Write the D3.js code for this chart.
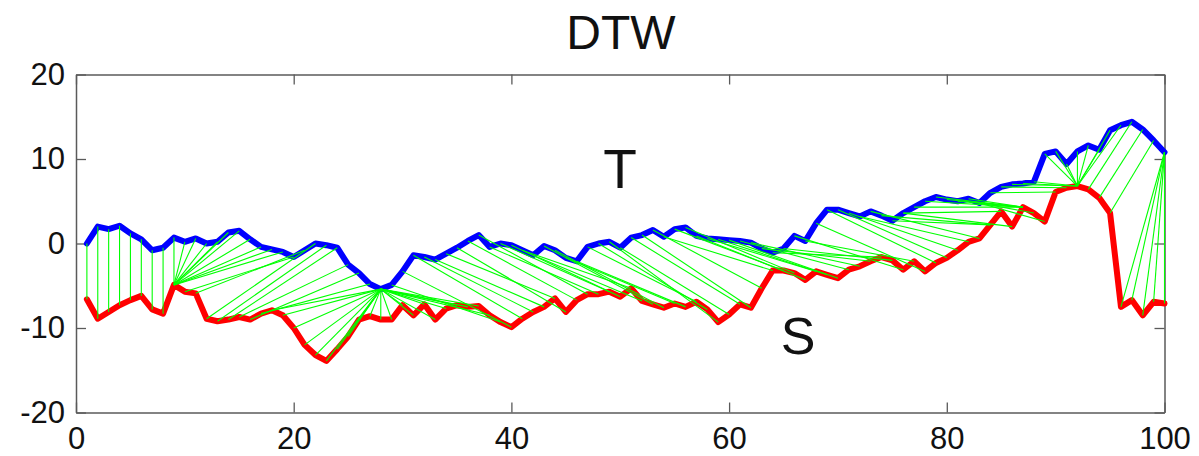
<!DOCTYPE html>
<html><head><meta charset="utf-8">
<script src="https://cdn.jsdelivr.net/npm/d3@7"></script>
<style>
body{margin:0;background:#fff}
svg text{font-family:"Liberation Sans",Arial,Helvetica,sans-serif;fill:#111}
</style>
</head><body><svg id="chart" width="1199" height="456"></svg>
<script>
// Query series T and reference series S, one value per time step 1..100
const seriesT = [0.0,2.0,1.7,2.1,1.2,0.5,-0.8,-0.5,0.7,0.2,0.6,0.0,0.2,1.3,1.5,0.5,-0.4,-0.7,-1.0,-1.6,
 -0.8,0.0,-0.2,-0.5,-2.5,-3.5,-4.8,-5.4,-4.9,-3.3,-1.4,-1.6,-1.9,-1.2,-0.5,0.3,1.0,-0.4,0.0,-0.2,
 -0.8,-1.4,-0.3,-0.8,-1.7,-2.1,-0.4,0.0,0.2,-0.5,0.7,1.0,1.6,0.8,1.7,1.9,0.9,0.6,0.5,0.4,
 0.3,0.1,-0.6,-1.1,-0.6,0.9,0.3,2.4,4.0,4.0,3.6,3.2,3.8,3.3,2.7,3.6,4.3,5.0,5.5,5.2,
 5.0,5.3,4.8,6.0,6.7,7.0,7.1,7.3,10.6,10.9,9.4,10.9,11.6,11.1,13.4,14.0,14.4,13.5,12.2,10.8];
const seriesS = [-6.6,-8.9,-8.1,-7.3,-6.7,-6.2,-7.8,-8.3,-4.9,-5.7,-5.9,-8.9,-9.2,-9.0,-8.7,-9.0,-8.3,-7.9,-8.5,-10.0,
 -12.0,-13.2,-13.9,-12.5,-11.0,-9.0,-8.6,-9.0,-9.0,-7.3,-8.5,-7.2,-9.0,-7.7,-7.3,-7.5,-7.4,-8.5,-9.3,-9.9,
 -8.9,-8.1,-7.5,-6.5,-8.1,-6.7,-6.0,-6.0,-5.7,-6.3,-5.3,-6.8,-7.2,-7.6,-7.1,-7.5,-6.9,-7.8,-9.3,-8.4,
 -7.2,-7.6,-5.3,-3.2,-3.2,-3.5,-4.3,-3.3,-3.7,-4.1,-3.1,-2.7,-2.1,-1.6,-2.0,-3.1,-2.1,-3.3,-2.3,-1.7,
 -0.8,0.2,0.6,2.2,3.8,2.0,4.3,3.6,2.6,6.1,6.6,6.8,6.4,5.4,3.6,-7.5,-6.7,-8.5,-6.9,-7.1];
const xTicks = [0,20,40,60,80,100];
const yTicks = [-20,-10,0,10,20];
const titleText = "DTW";
const seriesNames = ["T","S"];
const warpWindow = 10; // Sakoe-Chiba band half-width, in samples

const svg = d3.select("#chart");
const x = d3.scaleLinear().domain([0,100]).range([76,1164.5]);
const y = d3.scaleLinear().domain([-20,20]).range([412.5,74.5]);

// Optimal warping path (squared-difference cost, banded)
function dtwPath(a,b,w){
  const n=a.length,m=b.length;
  const D=Array.from({length:n},()=>new Array(m).fill(Infinity));
  for(let i=0;i<n;i++)for(let j=0;j<m;j++){
    if(Math.abs(i-j)>w)continue;
    const c=(a[i]-b[j])**2;
    if(i===0&&j===0){D[i][j]=c;continue;}
    let best=Infinity;
    if(i>0)best=Math.min(best,D[i-1][j]);
    if(j>0)best=Math.min(best,D[i][j-1]);
    if(i>0&&j>0)best=Math.min(best,D[i-1][j-1]);
    D[i][j]=c+best;
  }
  let i=n-1,j=m-1;const path=[[i,j]];
  while(i>0||j>0){
    if(i===0)j--;else if(j===0)i--;else{
      const d=D[i-1][j-1],u=D[i-1][j],l=D[i][j-1];
      if(d<=u&&d<=l){i--;j--;}else if(u<=l)i--;else j--;
    }
    path.push([i,j]);
  }
  return path.reverse();
}
const path = dtwPath(seriesT, seriesS, warpWindow);

// Axes box with inward ticks on all four sides
const axisColor = "#5a5a5a";
const plainNum = d => String(d);   // ASCII hyphen for negatives
function styleAxis(g){
  g.select(".domain").attr("stroke",axisColor).attr("stroke-width",1.5);
  g.selectAll(".tick line").attr("stroke",axisColor).attr("stroke-width",1.3);
  g.selectAll(".tick text").attr("font-size",31).attr("fill","#111")
   .attr("font-family","'Liberation Sans',Arial,sans-serif");
}
svg.append("g").attr("transform","translate(0,412.5)")
  .call(d3.axisBottom(x).tickValues(xTicks).tickSizeInner(-10).tickSizeOuter(0).tickPadding(14).tickFormat(plainNum))
  .call(styleAxis);
svg.append("g").attr("transform","translate(0,74.5)")
  .call(d3.axisTop(x).tickValues(xTicks).tickSizeInner(-10).tickSizeOuter(0).tickFormat(""))
  .call(styleAxis);
svg.append("g").attr("transform","translate(76,0)")
  .call(d3.axisLeft(y).tickValues(yTicks).tickSizeInner(-10).tickSizeOuter(0).tickPadding(11).tickFormat(plainNum))
  .call(styleAxis);
svg.append("g").attr("transform","translate(1164.5,0)")
  .call(d3.axisRight(y).tickValues(yTicks).tickSizeInner(-10).tickSizeOuter(0).tickFormat(""))
  .call(styleAxis);

// The two series
const line = d3.line().x((d,i)=>x(i+1)).y(d=>y(d));
svg.append("path").attr("d",line(seriesT)).attr("fill","none")
  .attr("stroke","#0000ff").attr("stroke-width",6).attr("stroke-linejoin","round").attr("stroke-linecap","round");
svg.append("path").attr("d",line(seriesS)).attr("fill","none")
  .attr("stroke","#ff0000").attr("stroke-width",6).attr("stroke-linejoin","round").attr("stroke-linecap","round");

// Warping links between matched samples
svg.append("g").selectAll("line").data(path).join("line")
  .attr("x1",d=>x(d[0]+1)).attr("y1",d=>y(seriesT[d[0]]))
  .attr("x2",d=>x(d[1]+1)).attr("y2",d=>y(seriesS[d[1]]))
  .attr("stroke","#00ff00").attr("stroke-width",1.1);

// Title and series labels
svg.append("text").attr("x",621).attr("y",49).attr("text-anchor","middle").attr("font-size",48).text(titleText);
svg.append("text").attr("x",620).attr("y",188).attr("text-anchor","middle").attr("font-size",55).text(seriesNames[0]);
svg.append("text").attr("x",798).attr("y",354).attr("text-anchor","middle").attr("font-size",52).text(seriesNames[1]);
</script></body></html>
